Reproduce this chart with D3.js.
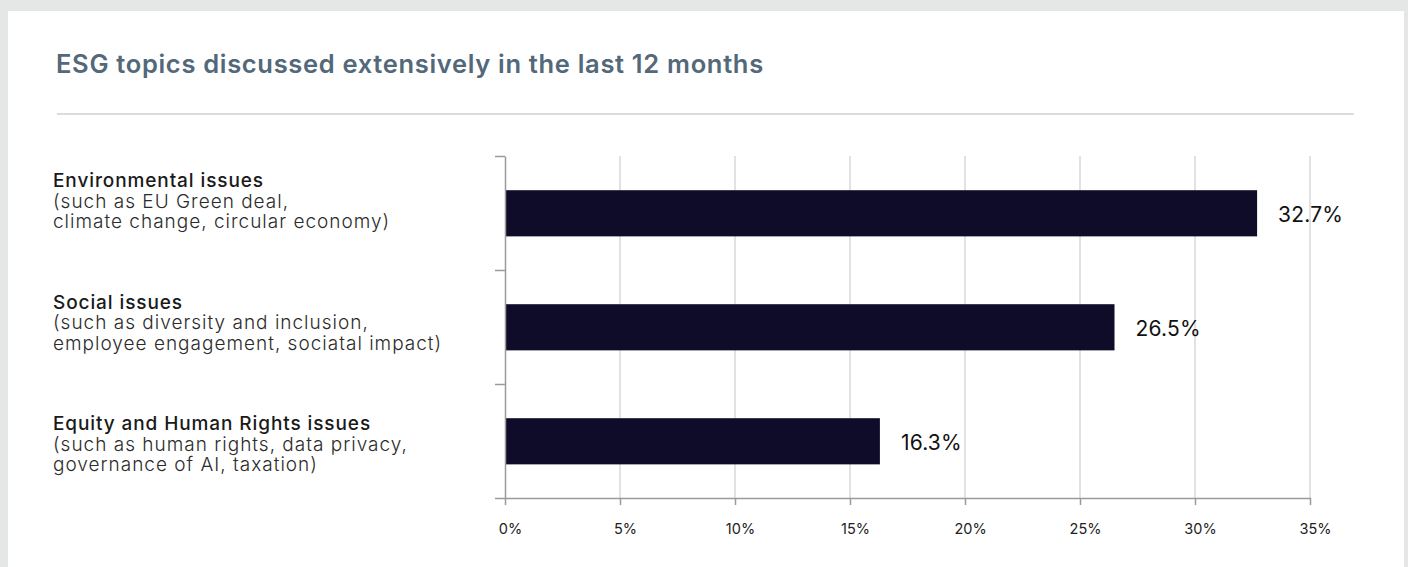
<!DOCTYPE html>
<html>
<head>
<meta charset="utf-8">
<script src="https://cdn.jsdelivr.net/npm/d3@7"></script>
<style>
  html, body { margin: 0; padding: 0; background: #e5e7e6; }
  svg { display: block; }
  text { font-family: Inter, "Open Sans", sans-serif; }
</style>
</head>
<body>
<svg id="chart" width="1408" height="567"></svg>
<script>
// Survey results: share of respondents per ESG topic
const titleText = "ESG topics discussed extensively in the last 12 months";
const categories = ["Environmental issues", "Social issues", "Equity and Human Rights issues"];
const subLines = [
  ["(such as EU Green deal,", "climate change, circular economy)"],
  ["(such as diversity and inclusion,", "employee engagement, sociatal impact)"],
  ["(such as human rights, data privacy,", "governance of AI, taxation)"]
];
const values = [32.7, 26.5, 16.3];
const tickValues = [0, 5, 10, 15, 20, 25, 30, 35];
const tickLabels = ["0%", "5%", "10%", "15%", "20%", "25%", "30%", "35%"];

const svg = d3.select("#chart");

// white card
svg.append("rect")
  .attr("x", 8).attr("y", 11)
  .attr("width", 1396).attr("height", 570)
  .attr("fill", "#ffffff");

// title and rule below it
svg.append("text")
  .attr("x", 56).attr("y", 73)
  .attr("font-size", 25.5)
  .attr("font-weight", 600)
  .attr("letter-spacing", 0.68)
  .attr("fill", "#536878")
  .text(titleText);

svg.append("line")
  .attr("x1", 57).attr("x2", 1354)
  .attr("y1", 114).attr("y2", 114)
  .attr("stroke", "#dcdcdc").attr("stroke-width", 2);

// scales
const x = d3.scaleLinear().domain([0, 35]).range([505, 1310]);
const y = d3.scaleBand().domain(categories).range([156, 498]).padding(0);
const yEdge = d3.scaleLinear().domain([0, categories.length]).range([156, 498]);
const labelY = d3.scalePoint().domain(categories).range([187, 430]);

// vertical gridlines
svg.append("g")
  .selectAll("line")
  .data(tickValues.filter(d => d > 0))
  .join("line")
  .attr("x1", d => x(d)).attr("x2", d => x(d))
  .attr("y1", 156).attr("y2", 498)
  .attr("stroke", "#d9d9d9").attr("stroke-width", 1.5);

// bars
svg.append("g")
  .selectAll("rect")
  .data(categories)
  .join("rect")
  .attr("x", x(0))
  .attr("y", d => y(d) + y.bandwidth() * 0.3)
  .attr("width", (d, i) => x(values[i]) - x(0))
  .attr("height", y.bandwidth() * 0.405)
  .attr("fill", "#0f0c29");

// value labels
svg.append("g")
  .selectAll("text")
  .data(categories)
  .join("text")
  .attr("x", (d, i) => x(values[i]) + 21)
  .attr("y", d => y(d) + y.bandwidth() * 0.5 + 1)
  .attr("dominant-baseline", "central")
  .attr("font-size", 21)
  .attr("letter-spacing", 0.2)
  .attr("fill", "#111")
  .text((d, i) => values[i].toFixed(1) + "%");

// y axis: line with ticks at band edges
const yAxis = svg.append("g")
  .attr("transform", `translate(${x(0)},0)`)
  .call(d3.axisLeft(yEdge).tickValues(d3.range(categories.length + 1)).tickSize(10).tickSizeOuter(0).tickFormat(""));
yAxis.select(".domain").attr("stroke", "#9a9a9a").attr("stroke-width", 1.5);
yAxis.selectAll(".tick line").attr("stroke", "#9a9a9a").attr("stroke-width", 1.5);

// x axis
const xAxis = svg.append("g")
  .attr("transform", "translate(0,498)")
  .call(d3.axisBottom(x).tickValues(tickValues).tickSize(7).tickSizeOuter(0)
    .tickFormat((d, i) => tickLabels[i]));
xAxis.select(".domain").attr("stroke", "#9a9a9a").attr("stroke-width", 1.5);
xAxis.selectAll(".tick line").attr("stroke", "#9a9a9a").attr("stroke-width", 1.5);
xAxis.selectAll(".tick text")
  .attr("y", 30).attr("dy", "0")
  .attr("dx", 5)
  .attr("dominant-baseline", "central")
  .attr("font-family", "Inter, sans-serif")
  .attr("font-size", 14.5)
  .attr("fill", "#222");

// category labels
const labels = svg.append("g")
  .selectAll("text")
  .data(categories)
  .join("text")
  .attr("x", 53)
  .attr("y", d => labelY(d))
  .attr("font-size", 19)
  .attr("fill", "#1a1a1a");

labels.append("tspan")
  .attr("x", 53)
  .attr("font-weight", 500)
  .attr("letter-spacing", 0.9)
  .text(d => d);

labels.each(function(d, i) {
  d3.select(this).selectAll("tspan.sub")
    .data(subLines[i])
    .join("tspan")
    .attr("class", "sub")
    .attr("x", 53)
    .attr("dy", 20.5)
    .attr("font-weight", 300)
    .attr("letter-spacing", 1.0)
    .attr("fill", "#2b2b2b")
    .text(s => s);
});
</script>
</body>
</html>
